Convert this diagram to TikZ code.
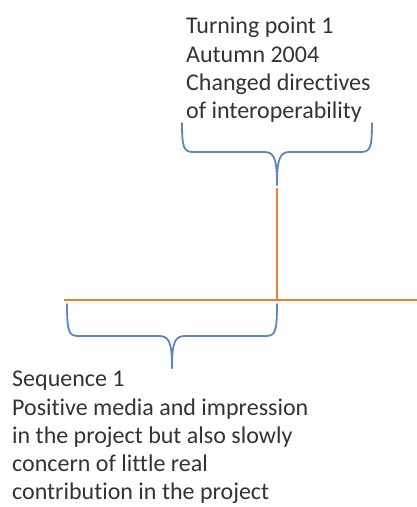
\documentclass[tikz,border=0pt]{standalone}
\usepackage{fontspec}
\setmainfont{Carlito}[Ligatures=NoCommon]
\usetikzlibrary{positioning}
\definecolor{timeorange}{HTML}{ED7D31}
\definecolor{braceblue}{HTML}{5B86C5}

\begin{document}
\begin{tikzpicture}[x=1pt, y=-1pt,
    timeline/.style={draw=timeorange, line width=1.8pt},
    bracepath/.style={draw=braceblue, line width=1.8pt, line cap=round, line join=round},
    label/.style={inner sep=0pt, align=left, font=\fontsize{24}{28.3}\selectfont, text=black!80}]
    \useasboundingbox (0,0) rectangle (417,507);

    % timeline
    \coordinate (axisL) at (64,300);
    \coordinate (axisR) at (417,300);
    \coordinate (tpAxis) at (277,300);
    \coordinate (tpTop) at (277,188);
    \draw[timeline] (axisL) -- (axisR);
    \draw[timeline] (tpTop) -- (tpAxis);

    % turning point 1
    \node[label, anchor=north west] (tp1) at (186,17)
        {Turning point 1\\Autumn 2004\\Changed directives\\of interoperability};
    \draw[bracepath] (182,123) .. controls (182,149) and (184,152) .. (194,152)
        -- (264,152) .. controls (274,152) and (277,158) .. (277,185);
    \draw[bracepath] (372,123) .. controls (372,149) and (370,152) .. (360,152)
        -- (290,152) .. controls (280,152) and (277,158) .. (277,185);

    % sequence 1
    \draw[bracepath] (67,304) .. controls (67,333) and (69,336) .. (79,336)
        -- (159,336) .. controls (169,336) and (172,342) .. (172,368);
    \draw[bracepath] (277,304) .. controls (277,333) and (275,336) .. (265,336)
        -- (185,336) .. controls (175,336) and (172,342) .. (172,368);
    \node[label, anchor=north west] (seq1) at (12,371)
        {Sequence 1\\Positive media and impression\\in the project but also slowly\\concern of little real\\contribution in the project};
\end{tikzpicture}
\end{document}
